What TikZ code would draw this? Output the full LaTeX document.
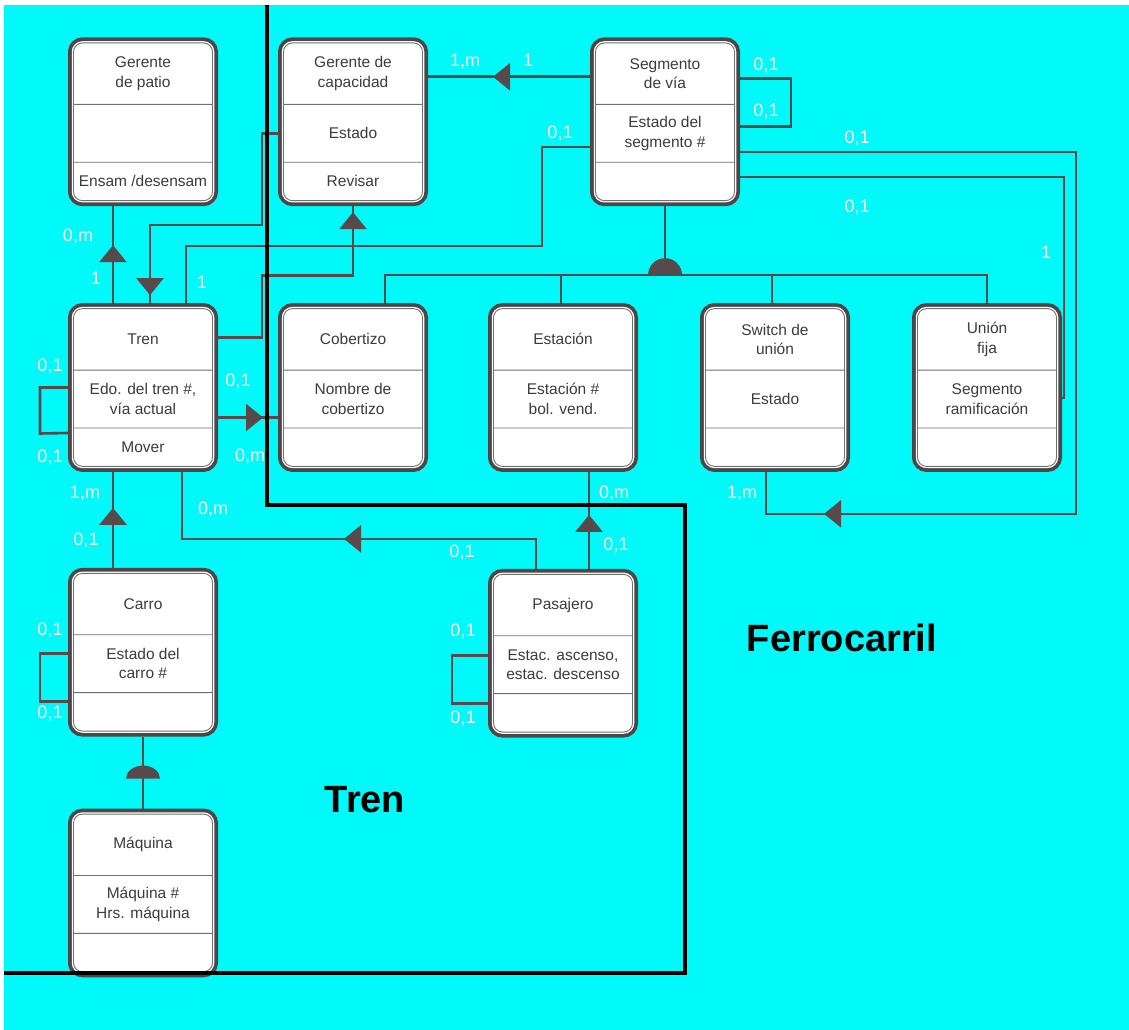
\documentclass[tikz,border=0pt]{standalone}
\usepackage{fontspec}
\setmainfont{Liberation Sans}
\usepackage{tikz}
\usetikzlibrary{arrows.meta,positioning,shapes.multipart,decorations.markings}
\definecolor{cielo}{HTML}{00FAFA}
\definecolor{linea}{HTML}{584A4A}
\definecolor{marco}{HTML}{4E4646}
\definecolor{gris}{HTML}{707070}
\definecolor{texto}{HTML}{3C3C3C}
\definecolor{blanco}{HTML}{FFF6F6}

\newcommand{\pcab}[1]{\parbox[c][60.5pt][c]{139pt}{\centering #1}}
\newcommand{\patr}[1]{\parbox[c][57pt][c]{139pt}{\centering #1}}
\newcommand{\pops}[1]{\parbox[c][37.5pt][c]{139pt}{\centering #1}}

\begin{document}
\begin{tikzpicture}[
  x=1pt, y=-1pt,
  clase/.style={rectangle split, rectangle split parts=3, draw=gris, line width=0.9pt,
    fill=white, rounded corners=9pt, inner sep=0pt, outer sep=5.5pt, text=texto,
    font=\fontsize{15.5}{19.5}\selectfont,
    preaction={draw=marco, line width=11pt}, preaction={draw=white, line width=3.5pt}},
  rel/.style={draw=linea, line width=2.6pt},
  flecha/.style={postaction={decorate}, decoration={markings,
    mark=at position #1 with {\arrow[color=linea]{Triangle[width=27pt,length=17pt]}}}},
  card/.style={text=blanco, inner sep=0pt, font=\fontsize{18}{18}\selectfont},
  zona/.style={font=\bfseries\fontsize{38}{38}\selectfont, text=black},
  limite/.style={draw=black, line width=4pt}
]
\useasboundingbox (0,0) rectangle (1129,1030);
\fill[white] (0,0) rectangle (1129,1030);
\fill[cielo] (4,5) rectangle (1129,1030);

% clases
\node[clase] (tren) at (143,387.5) {\pcab{Tren}\nodepart{two}\patr{Edo. del tren \#,\\vía actual}\nodepart{three}\pops{Mover}};
\node[clase, right=60pt of tren] (cobert) {\pcab{Cobertizo}\nodepart{two}\patr{Nombre de\\cobertizo}\nodepart{three}\pops{}};
\node[clase, right=60pt of cobert] (estac) {\pcab{Estación}\nodepart{two}\patr{Estación \#\\bol. vend.}\nodepart{three}\pops{}};
\node[clase, right=62pt of estac] (switch) {\pcab{Switch de\\unión}\nodepart{two}\patr{Estado}\nodepart{three}\pops{}};
\node[clase, right=62pt of switch] (fija) {\pcab{Unión\\fija}\nodepart{two}\patr{Segmento\\ramificación}\nodepart{three}\pops{}};
\node[clase, above=97pt of tren] (patio) {\pcab{Gerente\\de patio}\nodepart{two}\patr{}\nodepart{three}\pops{Ensam /desensam}};
\node[clase, above=97pt of cobert] (capac) {\pcab{Gerente de\\capacidad}\nodepart{two}\patr{Estado}\nodepart{three}\pops{Revisar}};
\node[clase, right=162pt of capac] (segm) {\pcab{Segmento\\de vía}\nodepart{two}\patr{Estado del\\segmento \#}\nodepart{three}\pops{}};
\node[clase, below=96pt of tren] (carro) {\pcab{Carro}\nodepart{two}\patr{Estado del\\carro \#}\nodepart{three}\pops{}};
\node[clase, below=72pt of carro] (maquina) {\pcab{Máquina}\nodepart{two}\patr{Máquina \#\\Hrs. máquina}\nodepart{three}\pops{}};
\node[clase, below=97pt of estac] (pasaj) {\pcab{Pasajero}\nodepart{two}\patr{Estac. ascenso,\\estac. descenso}\nodepart{three}\pops{}};

% relaciones
\draw[rel, flecha=58pt] ([xshift=-30pt]tren.north) -- ([xshift=-30pt]patio.south);
\draw[rel, flecha=-8pt] ([yshift=-12pt]capac.west) -| ++(-16,91) -| ([xshift=7pt]tren.north);
\draw[rel] ([xshift=43pt]tren.north) |- ++(356,-57) |- ([yshift=-25pt]segm.west);
\draw[rel, flecha=-6pt] ([yshift=50pt]tren.east) -| ++(44,-62) -| (capac.south);
\draw[rel, flecha=45pt] ([yshift=-30pt]tren.east) -- ([yshift=-30pt]cobert.west);
\draw[rel, flecha=60pt] ([xshift=-30pt]carro.north) -- ([xshift=-30pt]tren.south);
\draw[rel, flecha=222pt] ([xshift=-27pt]pasaj.north) -- ++(0,-30) -| ([xshift=39pt]tren.south);
\draw[rel, flecha=54pt] ([xshift=26pt]pasaj.north) -- ([xshift=26pt]estac.south);
\draw[rel, flecha=97pt] ([yshift=45pt]segm.west) -- ([yshift=45pt]capac.east);
\draw[rel, flecha=-100pt] ([yshift=-30pt]segm.east) -| ++(336,362) -| ([xshift=-9pt]switch.south);
\draw[rel] ([yshift=-55pt]segm.east) -- ++(324,0) |- ([yshift=-10.5pt]fija.east);

% lazos
\draw[rel] (tren.west) -| ++(-28,46) -- ([yshift=-45.5pt]tren.west);
\draw[rel] ([yshift=-1.5pt]carro.west) -| ++(-28,48) -- ([yshift=-49.5pt]carro.west);
\draw[rel] ([yshift=-2.5pt]pasaj.west) -| ++(-36,48) -- ([yshift=-50.5pt]pasaj.west);
\draw[rel] ([yshift=43pt]segm.east) -| ++(51,48) -- ([yshift=-5pt]segm.east);

% generalizaciones
\draw[rel] (segm.south) -- ++(0,69) coordinate (gen);
\draw[rel] ([xshift=32pt]cobert.north) |- (gen -| fija.north) -- (fija.north);
\draw[rel] ([xshift=-2pt]estac.north) -- ([xshift=-2pt]estac.north |- gen);
\draw[rel] ([xshift=-3pt]switch.north) -- ([xshift=-3pt]switch.north |- gen);
\fill[linea] ([xshift=-17pt]gen) arc[start angle=180, end angle=0, radius=17pt] -- cycle;
\draw[rel] (carro.south) -- (maquina.north);
\fill[linea] ([xshift=-17pt,yshift=-42pt]carro.south) arc[start angle=180, end angle=0, x radius=17pt, y radius=13pt] -- cycle;

% cardinalidades
\node[card] (k1) at (78,236) {0,m};
\node[card] (k2) at (96,278) {1};
\node[card] (k3) at (202,282) {1};
\node[card] (k4) at (560,133) {0,1};
\node[card] (k5) at (238,381) {0,1};
\node[card] (k6) at (250,456) {0,m};
\node[card] (k7) at (50,366) {0,1};
\node[card] (k8) at (50,457) {0,1};
\node[card] (k9) at (85,493) {1,m};
\node[card] (k10) at (86,540) {0,1};
\node[card] (k11) at (213,509) {0,m};
\node[card] (k12) at (462,552) {0,1};
\node[card] (k13) at (614,493) {0,m};
\node[card] (k14) at (616,545) {0,1};
\node[card] (k15) at (50,630) {0,1};
\node[card] (k16) at (50,713) {0,1};
\node[card] (k17) at (463,631) {0,1};
\node[card] (k18) at (463,718) {0,1};
\node[card] (k19) at (766,65) {0,1};
\node[card] (k20) at (766,111) {0,1};
\node[card] (k21) at (465,61) {1,m};
\node[card] (k22) at (528,60) {1};
\node[card] (k23) at (857,138) {0,1};
\node[card] (k24) at (857,207) {0,1};
\node[card] (k25) at (1046,252) {1};
\node[card] (k26) at (742,493) {1,m};

% zonas
\draw[limite] (267,5) -- (267,505) -- (685,505) -- (685,973) -- (4,973);
\node[zona] (ztren) at (365,800) {Tren};
\node[zona] (zferro) at (842,638) {Ferrocarril};
\end{tikzpicture}
\end{document}
